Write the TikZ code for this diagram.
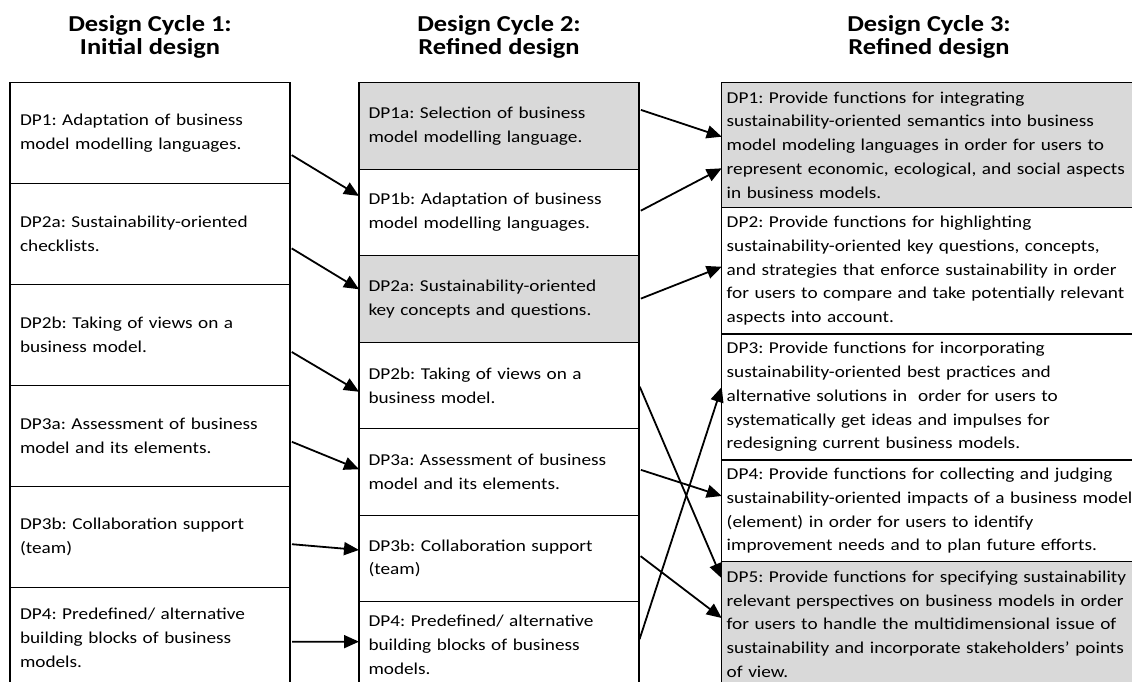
\documentclass[tikz,border=0pt]{standalone}
\usepackage{fontspec}
\setmainfont{Carlito}[FakeStretch=1.16]
\usetikzlibrary{positioning, arrows.meta}
\definecolor{CycleGray}{HTML}{D9D9D9}
\frenchspacing

\begin{document}
\begin{tikzpicture}[x=1pt, y=-1pt,
    dpbox/.style={draw, line width=1.2pt, outer sep=0pt, align=left,
      font=\fontsize{16.6}{23.7}\selectfont},
    firstbox/.style={dpbox, anchor=north west},
    cycone/.style={text width=260pt, inner xsep=10pt, minimum height=100.9pt},
    cyctwo/.style={text width=261pt, inner xsep=9.5pt, minimum height=86.5pt},
    cycthree/.style={text width=440pt, inner xsep=5pt},
    shaded/.style={fill=CycleGray},
    cyclehead/.style={align=center, inner sep=0pt, anchor=north,
      font=\fontsize{22.8}{23.8}\selectfont\bfseries},
    link/.style={line width=1.8pt, shorten <=2pt, -{Triangle[length=15pt, width=13pt]}}]

    % Frame of the cropped figure
    \useasboundingbox (0,0) rectangle (1132,682);
    \clip (0,0) rectangle (1132,682);

    % Headings
    \node[cyclehead] (head1) at (150,15) {Design Cycle 1:\\Initial design};
    \node[cyclehead] (head2) at (499,15) {Design Cycle 2:\\Refined design};
    \node[cyclehead] (head3) at (929,15) {Design Cycle 3:\\Refined design};

    % Design cycle 1
    \node[firstbox, cycone] (c1a) at (10,82.7) {DP1: Adaptation of business\\model modelling languages.};
    \node[dpbox, cycone, below=0pt of c1a] (c1b) {DP2a: Sustainability-oriented\\checklists.};
    \node[dpbox, cycone, below=0pt of c1b] (c1c) {DP2b: Taking of views on a\\business model.};
    \node[dpbox, cycone, below=0pt of c1c] (c1d) {DP3a: Assessment of business\\model and its elements.};
    \node[dpbox, cycone, below=0pt of c1d] (c1e) {DP3b: Collaboration support\\(team)};
    \node[dpbox, cycone, below=0pt of c1e] (c1f) {DP4: Predefined/ alternative\\building blocks of business\\models.};

    % Design cycle 2
    \node[firstbox, cyctwo, shaded] (c2a) at (359,82.7) {DP1a: Selection of business\\model modelling language.};
    \node[dpbox, cyctwo, below=0pt of c2a] (c2b) {DP1b: Adaptation of business\\model modelling languages.};
    \node[dpbox, cyctwo, shaded, below=0pt of c2b] (c2c) {DP2a: Sustainability-oriented\\key concepts and questions.};
    \node[dpbox, cyctwo, below=0pt of c2c] (c2d) {DP2b: Taking of views on a\\business model.};
    \node[dpbox, cyctwo, below=0pt of c2d] (c2e) {DP3a: Assessment of business\\model and its elements.};
    \node[dpbox, cyctwo, below=0pt of c2e] (c2f) {DP3b: Collaboration support\\(team)};
    \node[dpbox, cyctwo, below=0pt of c2f] (c2g) {DP4: Predefined/ alternative\\building blocks of business\\models.};

    % Design cycle 3
    \node[firstbox, cycthree, shaded, minimum height=125pt] (c3a) at (721.7,82.5)
      {DP1: Provide functions for integrating\\sustainability-oriented semantics into business\\model modeling languages in order for users to\\represent economic, ecological, and social aspects\\in business models.};
    \node[dpbox, cycthree, minimum height=126.5pt, below=0pt of c3a] (c3b)
      {DP2: Provide functions for highlighting\\sustainability-oriented key questions, concepts,\\and strategies that enforce sustainability in order\\for users to compare and take potentially relevant\\aspects into account.};
    \node[dpbox, cycthree, minimum height=126pt, below=0pt of c3b] (c3c)
      {DP3: Provide functions for incorporating\\sustainability-oriented best practices and\\alternative solutions in \ order for users to\\systematically get ideas and impulses for\\redesigning current business models.};
    \node[dpbox, cycthree, minimum height=101.7pt, below=0pt of c3c] (c3d)
      {DP4: Provide functions for collecting and judging\\sustainability-oriented impacts of a business model\\(element) in order for users to identify\\improvement needs and to plan future efforts.};
    \node[dpbox, cycthree, shaded, minimum height=125pt, below=0pt of c3d] (c3e)
      {DP5: Provide functions for specifying sustainability\\relevant perspectives on business models in order\\for users to handle the multidimensional issue of\\sustainability and incorporate stakeholders’ points\\of view.};

    % Cycle 1 to cycle 2
    \draw[link] ([yshift=-20.9pt]c1a.east) -- ([yshift=16.5pt]c2b.west);
    \draw[link] ([yshift=-13.3pt]c1b.east) -- ([yshift=9.7pt]c2c.west);
    \draw[link] ([yshift=-16pt]c1c.east) -- ([yshift=-6.3pt]c2d.west);
    \draw[link] ([yshift=-5.2pt]c1d.east) -- ([yshift=2.7pt]c2e.west);
    \draw[link] ([yshift=-7.3pt]c1e.east) -- ([yshift=8.5pt]c2f.west);
    \draw[link] ([yshift=-4pt]c1f.east) -- ([yshift=3.3pt]c2g.west);

    % Cycle 2 to cycle 3
    \draw[link] ([yshift=16.7pt]c2a.east) -- ([yshift=8.3pt]c3a.west);
    \draw[link] ([yshift=0.8pt]c2b.east) -- ([yshift=-23.3pt]c3a.west);
    \draw[link] ([yshift=-0.4pt]c2c.east) -- ([yshift=4pt]c3b.west);
    \draw[link] ([yshift=0.5pt]c2d.east) -- ([yshift=45.9pt]c3e.west);
    \draw[link] ([yshift=2.7pt]c2e.east) -- ([yshift=14.9pt]c3d.west);
    \draw[link] ([yshift=3.5pt]c2f.east) -- ([yshift=6.2pt]c3e.west);
    \draw[link] ([yshift=4pt]c2g.east) -- ([yshift=10pt]c3c.west);
\end{tikzpicture}
\end{document}
